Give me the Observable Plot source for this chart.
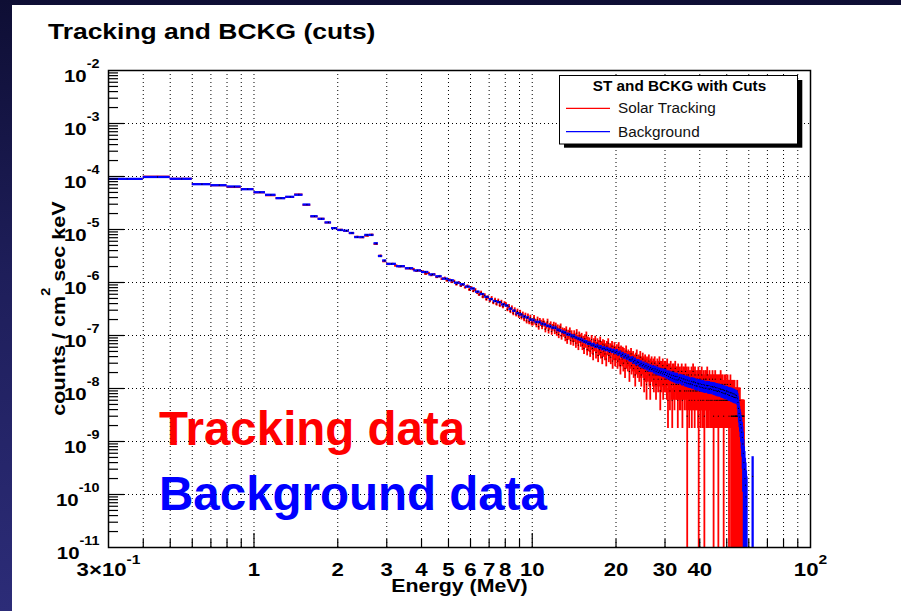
<!DOCTYPE html>
<html><head><meta charset="utf-8">
<script src="https://cdn.jsdelivr.net/npm/d3@7"></script>
<script src="https://cdn.jsdelivr.net/npm/@observablehq/plot@0.6"></script>
<style>
html,body{margin:0;padding:0;}
body{width:901px;height:611px;overflow:hidden;position:relative;background:linear-gradient(180deg,#0e0e34 0%,#1e1e5a 45%,#2c2c78 100%);font-family:"Liberation Sans",Arial,sans-serif;}
#panel{position:absolute;left:12px;top:5px;width:889px;height:606px;background:#fff;}
#chart{position:absolute;left:0;top:0;}
</style></head><body>
<div id="panel"></div>
<div id="chart"></div>
<script>
// ---------- data ----------
const lowStart = [0.3,0.4,0.5,0.6,0.7,0.8,0.9,1.0,1.1,1.2,1.3,1.4,1.5,1.6,1.7,1.8,1.9,2.0,2.1,2.2,2.3,2.4,2.5,2.6,2.7,2.8,2.9];
const lowWidth = 0.1;
const lowBlue = [9.05e-5,9.8e-5,9.05e-5,7.16e-5,6.85e-5,6.48e-5,5.76e-5,5.05e-5,4.52e-5,3.9e-5,4.14e-5,4.52e-5,2.96e-5,1.78e-5,1.59e-5,1.36e-5,1.06e-5,9.8e-6,9.5e-6,8.6e-6,7.2e-6,7.2e-6,7.9e-6,7.9e-6,5.5e-6,3.16e-6,2.6e-6];
const lowRed  = [9.0e-5,1.0e-4,9.1e-5,7.2e-5,6.8e-5,6.3e-5,5.8e-5,5.0e-5,4.4e-5,3.9e-5,4.1e-5,4.6e-5,2.9e-5,1.76e-5,1.6e-5,1.35e-5,1.07e-5,9.9e-6,9.4e-6,8.5e-6,7.3e-6,7.1e-6,7.6e-6,8.0e-6,5.3e-6,3.2e-6,2.5e-6];

// solar tracking: counts per 0.1 MeV bin from 3.0 MeV (value = counts * kRed)
const highStart = 3.0;
const redWidth = 0.1;
const kRed = 3e-9;
const redCounts = [
738,741,689,665,671,612,609,590,548,557,
531,486,497,455,470,419,433,388,401,362,
371,338,349,306,329,287,301,268,283,244,
262,229,240,213,196,214,178,190,161,173,
151,168,139,155,131,150,124,142,118,133,
127,104,118,96,110,88,101,84,95,79,
90,74,83,69,79,63,76,61,72,58,
58,71,60,54,66,49,62,57,50,61,
55,44,51,60,42,49,53,40,47,52,
41,50,38,46,35,44,48,33,40,37,
39,31,42,28,36,33,40,27,35,30,
26,35,30,24,37,28,22,33,29,25,
31,22,27,19,29,24,33,18,26,21,
25,17,22,28,19,15,24,21,27,16,
20,24,14,22,18,26,16,21,13,23,
17,22,15,19,12,21,18,24,14,16,
19,13,18,21,11,17,15,20,12,16,
15,18,11,14,20,12,16,9,17,13,
12,16,10,15,13,8,14,17,11,13,
10,14,12,7,13,11,15,9,12,10,
13,8,11,10,6,12,9,14,10,8,
9,11,7,10,13,8,6,10,9,12,
8,10,5,9,11,7,9,4,10,8,
7,9,11,6,8,4,9,7,10,8,
8,6,9,5,7,10,6,8,4,7,
6,9,7,5,8,6,10,7,3,8,
7,5,8,6,9,4,7,6,8,5,
6,8,5,7,4,9,6,2,7,5,
5,7,3,6,8,5,4,6,2,7,
6,4,7,5,3,6,8,5,4,6,
4,6,5,2,7,4,5,6,3,5,
5,3,6,4,7,5,2,4,6,5,
4,6,3,5,4,7,5,3,4,6,
1,5,4,3,6,4,2,5,4,3,
5,3,4,6,2,4,5,3,7,4,
3,5,4,2,6,3,4,5,3,4,
4,3,5,4,2,6,1,4,3,5,
3,4,2,5,3,4,6,3,2,4,
4,3,5,2,4,1,3,4,5,3,
3,5,2,4,3,6,3,2,4,3,
4,2,3,5,3,4,2,3,4,3,
2,4,3,3,5,2,4,3,1,4,
3,2,4,3,5,3,2,4,3,2,
4,3,2,3,4,2,1,3,4,3,
2,3,4,2,3,5,2,3,2,4,
3,2,3,4,2,3,2,1,3,2,
3,4,2,3,2,3,4,2,3,2,
2,3,2,4,3,2,3,2,3,1,
3,2,3,2,2,4,2,3,1,2,
1,3,2,1,2,3,1,2,1,3,
2,1,2,3,1,2,1,1,2,1,
2,1,1,2,1,3,1,1,2,1,
1,1,2,1,0,1,1,2,1,1,
1,0,1,1,0,1,1,0,1,1,
0,1,1,0,1,0,1,0,0,0
];

// background: values (units of 1e-9) per 0.25 MeV bin from 3.0 MeV
const blueWidth = 0.25;
const blueUnit = 1e-9;
const kBlue = 4e-10;
const blueHigh = [
2250,2030,1860,1690, 1580,1420,1310,1180, 1100,990,925,835, 770,670,605,535,
485,445,425,385, 365,320,292,262, 248,227,217,198,
193,179,178,165, 161,151,148,139, 138,126,123,116, 113,105,104,97, 96,90,86,84,
81,76,75,70, 70,66,66,62, 63,59,60,56, 57,54,55,52, 53,50,51,48,
49.5,45.1,46.8,42.2, 43.9,39.4,41.6,37.7, 39.4,35.6,34.6,36.1, 32.1,33.9,30.2,31.7,
31.2,28.1,29.8,26.9, 28.3,25.6,26.9,24.5, 25.9,23.3,24.8,22.9, 23.7,21.6,23.4,20.9,
22.4,20.1,21.5,19.7, 20.9,19.0,20.4,18.5, 20.1,17.6,18.9,17.0, 18.6,16.2,17.9,15.6,
17.5,15.1,16.9,14.6, 16.8,14.4,15.0,16.0, 14.1,15.7,13.4,15.2, 15.1,13.0,14.6,12.7,
14.4,12.4,13.9,12.2, 12.2,13.7,11.8,13.3, 13.3,11.4,12.9,11.2, 11.1,12.6,12.2,10.8,
12.3,10.6,11.9,10.4, 11.9,10.2,11.6,10.1, 10.2,11.5,11.3,9.8, 11.4,9.7,10.0,11.0,
9.6,10.9,10.6,9.3, 10.8,9.2,10.4,9.0, 10.3,8.8,9.1,10.1, 8.7,9.9,9.6,8.4,
9.6,8.3,9.4,8.1, 9.2,7.9,8.2,9.0, 8.9,7.7,8.6,7.5, 7.4,8.5,8.3,7.2,
8.3,7.1,8.0,6.9, 7.9,6.8,7.6,6.7, 7.4,6.9,6.4,5.5, 4.2,3.4,2.9,2.5,
2.1,1.8,1.5,1.2, 0.9,0.6,0.4,0.3, 0.2,0.15,0.09,0.06
];
const blueTail = [{e0: 61.9, e1: 62.0, v: 2.2e-10}];

const xTickValues = [0.3,1,2,3,4,5,6,7,8,10,20,30,40,100];
const xTickLabels = ["3×10^-1","1","2","3","4","5","6","7","8","10","20","30","40","10^2"];
const yTickValues = [1e-11,1e-10,1e-9,1e-8,1e-7,1e-6,1e-5,1e-4,1e-3,1e-2];
const yTickLabels = ["10^-11","10^-10","10^-9","10^-8","10^-7","10^-6","10^-5","10^-4","10^-3","10^-2"];
const xGrid = [0.4,0.5,0.6,0.7,0.8,0.9,1,2,3,4,5,6,7,8,9,10,20,30,40,50,60,70,80,90];
const xMajor = [1,10];
const xMinor = [0.4,0.5,0.6,0.7,0.8,0.9,2,3,4,5,6,7,8,9,20,30,40,50,60,70,80,90];
const yDecades = [1e-10,1e-9,1e-8,1e-7,1e-6,1e-5,1e-4,1e-3];
const yMinor = [1e-11,1e-10,1e-9,1e-8,1e-7,1e-6,1e-5,1e-4,1e-3].flatMap(d => [2,3,4,5,6,7,8,9].map(m => m*d));

// ---------- build bins ----------
function bin(e0, e1, v, k) {
  const err = Math.sqrt(v * k);
  return {e0, e1, xc: (e0 + e1) / 2, v, lo: v - err > 0 ? v - err : 1e-14, hi: v + err};
}
const redBins = [
  ...lowStart.map((e, i) => bin(e, e + lowWidth, lowRed[i], kRed)),
  ...redCounts.map((n, i) => bin(highStart + i * redWidth, highStart + (i + 1) * redWidth, n * kRed, kRed))
].filter(d => d.v > 0);
const blueBins = [
  ...lowStart.map((e, i) => bin(e, e + lowWidth, lowBlue[i], kBlue)),
  ...blueHigh.map((v, i) => bin(highStart + i * blueWidth, highStart + (i + 1) * blueWidth, v * blueUnit, kBlue)),
  ...blueTail.map(d => bin(d.e0, d.e1, d.v, kBlue))
].filter(d => d.v > 0);

// ---------- layout ----------
const W = 901, H = 611, mL = 108, mT = 70, mR = 91, mB = 64;
const frameW = W - mL - mR, frameH = H - mT - mB;
const FONT = "'Liberation Sans', Arial, Helvetica, sans-serif";

const histMarks = (bins, color, sw) => [
  Plot.ruleY(bins, {x1: "e0", x2: "e1", y: "v", stroke: color, strokeWidth: sw, clip: true}),
  Plot.ruleX(bins, {x: "xc", y1: "lo", y2: "hi", stroke: color, strokeWidth: sw, clip: true}),
  Plot.dot(bins, {x: "xc", y: "v", r: 0.6, fill: "black", stroke: null, clip: true})
];

const plot = Plot.plot({
  width: W, height: H,
  marginLeft: mL, marginTop: mT, marginRight: mR, marginBottom: mB,
  style: {background: "transparent", color: "black", fontFamily: FONT, overflow: "visible"},
  x: {type: "log", domain: [0.3, 100], axis: null},
  y: {type: "log", domain: [1e-11, 1e-2], axis: null},
  marks: [
    Plot.ruleX(xGrid, {x: d => d, stroke: "black", strokeWidth: 1, strokeDasharray: "1,3"}),
    Plot.ruleY(yDecades, {y: d => d, stroke: "black", strokeWidth: 1, strokeDasharray: "1,3"}),
    ...histMarks(redBins, "#ff0000", 1.8),
    ...histMarks(blueBins, "#0000ff", 2.3),
    Plot.tickX(xMinor, {x: d => d, stroke: "black", strokeWidth: 1.2, insetTop: frameH - 8}),
    Plot.tickX(xMajor, {x: d => d, stroke: "black", strokeWidth: 1.2, insetTop: frameH - 14}),
    Plot.tickY(yMinor, {y: d => d, stroke: "black", strokeWidth: 1.2, insetRight: frameW - 10}),
    Plot.tickY(yDecades, {y: d => d, stroke: "black", strokeWidth: 1.2, insetRight: frameW - 16}),
    Plot.frame({stroke: "black", strokeWidth: 1.5}),
    Plot.text(xTickValues, {x: d => d, text: (d, i) => xTickLabels[i], frameAnchor: "bottom", lineAnchor: "bottom", dy: 28, fontSize: 18.5, fontWeight: "bold", fill: "black"}),
    Plot.text(yTickValues, {y: d => d, text: (d, i) => yTickLabels[i], frameAnchor: "left", textAnchor: "end", lineAnchor: "bottom", dx: -9, dy: 11, fontSize: 17, fontWeight: "bold", fill: "black"})
  ]
});
document.getElementById("chart").appendChild(plot);

// ---------- tick label superscripts & ROOT-like wide font ----------
const NS = "http://www.w3.org/2000/svg";
function stretch(el, s) {
  const x = parseFloat(el.getAttribute("x")) || 0;
  const t = el.getAttribute("transform") || "";
  el.setAttribute("transform", `${t} translate(${x},0) scale(${s},1) translate(${-x},0)`);
}
function setSup(el, label, supDy, supSize) {
  const [base, sup] = label.split("^");
  while (el.firstChild) el.removeChild(el.firstChild);
  el.appendChild(document.createTextNode(base));
  if (sup) {
    const ts = document.createElementNS(NS, "tspan");
    ts.setAttribute("dy", supDy);
    ts.setAttribute("font-size", supSize);
    ts.textContent = sup;
    el.appendChild(ts);
  }
}
const xSet = new Set(xTickLabels), ySet = new Set(yTickLabels);
Array.from(plot.querySelectorAll("text")).forEach(el => {
  const s = el.textContent;
  if (ySet.has(s)) { setSup(el, s, -13.5, 12); stretch(el, 1.2); }
  else if (xSet.has(s)) { setSup(el, s, -12, 13); stretch(el, 1.2); }
});

// ---------- titles, legend, annotations ----------
const svg = d3.select(plot);
const txt = () => svg.append("text").attr("font-family", FONT).attr("text-anchor", "start").attr("fill", "black");

txt().attr("transform", "translate(48,39.3) scale(1.23,1)")
  .attr("font-size", 21.5).attr("font-weight", "bold")
  .text("Tracking and BCKG (cuts)");

txt().attr("transform", "translate(459.5,592) scale(1.22,1)")
  .attr("text-anchor", "middle").attr("font-size", 17.5).attr("font-weight", "bold")
  .text("Energy (MeV)");

const yt = txt().attr("transform", "translate(65,308.5) rotate(-90) scale(1.2,1)")
  .attr("text-anchor", "middle").attr("font-size", 18).attr("font-weight", "bold");
yt.append("tspan").text("counts / cm");
yt.append("tspan").attr("dy", -15).attr("font-size", 12).text("2");
yt.append("tspan").attr("dy", 15).text(" sec keV");

// legend
svg.append("rect").attr("x", 564).attr("y", 80).attr("width", 238.3).attr("height", 67.7).attr("fill", "black");
svg.append("rect").attr("x", 559.5).attr("y", 75.5).attr("width", 238).attr("height", 68.5)
  .attr("fill", "white").attr("stroke", "black").attr("stroke-width", 1);
txt().attr("x", 679.5).attr("y", 91).attr("text-anchor", "middle")
  .attr("font-size", 15.3).attr("font-weight", "bold").text("ST and BCKG with Cuts");
const legendItems = [{label: "Solar Tracking", color: "#ff0000"}, {label: "Background", color: "#0000ff"}];
legendItems.forEach((d, i) => {
  const y = 108.3 + i * 23.4;
  svg.append("line").attr("x1", 566).attr("x2", 610).attr("y1", y).attr("y2", y)
    .attr("stroke", d.color).attr("stroke-width", 1.2);
  txt().attr("x", 618).attr("y", y + 5).attr("font-size", 15.3).attr("fill", "#111").text(d.label);
});

// big annotations
txt().attr("x", 159).attr("y", 445).attr("font-size", 47.5).attr("font-weight", "bold")
  .attr("fill", "#ff0000").text("Tracking data");
txt().attr("x", 159).attr("y", 510).attr("font-size", 47.5).attr("font-weight", "bold")
  .attr("fill", "#0000ff").text("Background data");
</script>
</body></html>
